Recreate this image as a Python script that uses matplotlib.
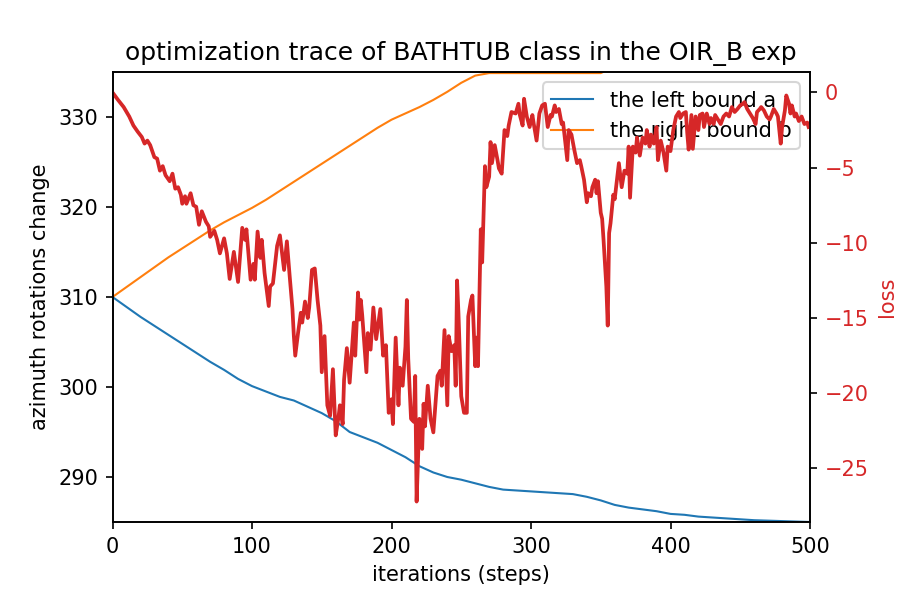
import matplotlib
matplotlib.use("Agg")
import matplotlib.pyplot as plt

# bounds (sampled every 10 steps)
bound_steps = list(range(0, 501, 10))
left_bound = [
    310.0, 308.9, 307.8, 306.8, 305.8, 304.8, 303.8, 302.8, 301.9, 300.9,
    300.1, 299.5, 298.9, 298.5, 297.8, 297.1, 296.2, 295.0, 294.4, 293.8,
    293.0, 292.2, 291.2, 290.5, 290.0, 289.7, 289.3, 288.9, 288.6, 288.5,
    288.4, 288.3, 288.2, 288.1, 287.8, 287.4, 286.9, 286.6, 286.4, 286.2,
    285.9, 285.8, 285.6, 285.5, 285.4, 285.3, 285.2, 285.15, 285.1, 285.05,
    285.0,
]
right_bound = [
    310.0, 311.1, 312.2, 313.3, 314.4, 315.4, 316.4, 317.4, 318.3, 319.1,
    319.9, 320.8, 321.8, 322.8, 323.8, 324.8, 325.8, 326.8, 327.8, 328.8,
    329.7, 330.4, 331.1, 331.9, 332.8, 333.8, 334.6, 334.88, 334.88, 334.88,
    334.88, 334.88, 334.88, 334.88, 334.88, 334.88, 335.6, 336.0, 336.3, 336.6,
    336.9, 337.1, 337.3, 337.5, 337.7, 337.9, 338.0, 338.1, 338.2, 338.3,
    338.4,
]

# loss trace
loss_steps = [
    0, 4, 8, 12, 15, 18, 21, 23, 25, 27, 30, 32, 34, 36, 38, 41, 43, 45, 47, 49,
    50, 52, 53, 56, 58, 60, 62, 64, 67, 69, 70, 73, 75, 77, 80, 82, 84, 87, 90, 93,
    95, 96, 99, 101, 102, 104, 106, 107, 109, 112, 113, 115, 118, 120, 123, 125, 127, 129, 130, 131,
    133, 135, 136, 138, 140, 141, 143, 145, 147, 149, 150, 152, 154, 156, 158, 160, 162, 163, 165, 166,
    168, 170, 172, 173, 174, 176, 177, 178, 179, 182, 183, 185, 187, 189, 192, 194, 196, 198, 200, 201,
    203, 205, 206, 208, 210, 211, 212, 214, 216, 217, 218, 220, 222, 223, 224, 226, 228, 230, 233, 235,
    236, 238, 240, 241, 243, 245, 246, 247, 248, 250, 252, 254, 255, 257, 258, 260, 261, 262, 264, 265,
    267, 268, 270, 271, 272, 274, 276, 277, 279, 281, 283, 284, 286, 289, 291, 292, 294, 295, 297, 299,
    301, 302, 304, 306, 308, 310, 312, 314, 315, 317, 318, 320, 322, 323, 326, 327, 329, 331, 333, 335,
    336, 338, 340, 341, 343, 344, 346, 347, 348, 350, 351, 352, 354, 355, 356, 357, 359, 360, 361, 363,
    365, 367, 369, 370, 371, 373, 375, 376, 378, 380, 382, 383, 385, 386, 388, 390, 391, 393, 395, 397,
    398, 400, 402, 404, 406, 407, 409, 411, 412, 413, 415, 416, 418, 420, 421, 423, 424, 426, 428, 429,
    431, 432, 434, 436, 438, 440, 442, 444, 446, 448, 450, 452, 453, 455, 457, 459, 461, 462, 464, 465,
    467, 469, 471, 472, 474, 476, 477, 479, 480, 482, 483, 485, 486, 487, 489, 490, 492, 494, 496, 498,
    499,
]
loss = [
    0.0, -0.5, -0.97, -1.6, -2.2, -2.6, -2.96, -3.4, -3.2, -3.5, -4.3, -4.4, -5.2, -4.9, -5.5, -5.9, -5.4, -6.4, -6.3, -6.8,
    -7.4, -6.9, -7.4, -6.7, -7.5, -7.6, -8.8, -7.9, -8.6, -8.9, -9.6, -9.2, -9.8, -10.7, -9.7, -10.7, -12.4, -10.6, -12.6, -9.0,
    -9.8, -9.1, -12.45, -11.4, -12.45, -9.25, -11.0, -9.8, -12.0, -14.2, -12.9, -12.7, -10.2, -9.5, -11.8, -9.9, -12.2, -14.4, -16.2, -17.5,
    -16.0, -14.65, -15.3, -13.9, -15.0, -14.3, -11.8, -11.7, -13.8, -15.5, -18.6, -16.2, -20.8, -21.5, -18.4, -22.8, -21.6, -20.8, -22.05, -19.1,
    -17.0, -19.3, -16.6, -15.3, -17.5, -13.3, -15.1, -13.8, -14.8, -18.6, -16.0, -17.1, -14.3, -16.4, -14.4, -17.5, -16.8, -21.3, -20.4, -22.05,
    -16.3, -20.8, -18.3, -19.5, -16.9, -13.8, -17.7, -21.7, -21.9, -18.85, -27.2, -21.7, -23.7, -20.7, -22.2, -19.5, -21.7, -22.6, -18.85, -18.5,
    -19.5, -15.8, -20.8, -16.2, -17.2, -16.8, -19.5, -12.5, -14.7, -20.2, -21.3, -21.3, -14.9, -13.8, -13.5, -18.2, -16.3, -18.2, -9.1, -11.3,
    -4.9, -6.3, -5.6, -3.3, -4.7, -3.5, -4.5, -5.05, -5.4, -2.5, -2.9, -2.2, -1.3, -1.4, -0.75, -1.5, -2.2, -0.42, -1.6, -2.3,
    -1.5, -2.1, -3.2, -1.4, -0.86, -0.75, -2.3, -1.5, -1.6, -0.86, -1.3, -1.1, -2.1, -2.0, -4.5, -2.5, -2.8, -3.8, -4.7, -4.5,
    -4.9, -5.8, -7.3, -6.7, -6.9, -6.3, -5.8, -6.7, -5.9, -8.0, -8.4, -9.8, -12.9, -15.5, -9.35, -8.7, -6.8, -7.1, -6.3, -4.7,
    -6.3, -5.2, -5.4, -3.6, -7.0, -3.6, -4.0, -3.0, -4.2, -3.0, -3.4, -2.5, -3.6, -2.8, -3.4, -2.3, -4.5, -3.2, -4.0, -5.2,
    -3.6, -3.9, -2.5, -1.6, -1.3, -1.7, -1.4, -1.3, -2.7, -3.8, -1.5, -3.75, -1.6, -2.5, -1.5, -1.4, -2.3, -1.4, -2.1, -1.7,
    -2.1, -1.5, -1.8, -2.1, -1.6, -1.4, -1.6, -0.97, -1.3, -1.1, -0.86, -0.75, -0.64, -1.1, -1.4, -1.7, -2.1, -1.3, -1.1, -0.97,
    -1.2, -1.6, -1.8, -1.6, -1.1, -1.4, -1.6, -3.4, -2.3, -1.2, -0.2, -0.75, -1.4, -0.86, -1.6, -1.4, -1.9, -1.6, -2.1, -2.0,
    -2.3,
]

fig, ax1 = plt.subplots(figsize=(6, 4), dpi=150)
fig.subplots_adjust(left=0.125, right=0.9, top=0.88, bottom=0.13)

ax1.plot(bound_steps, left_bound, color="tab:blue", linewidth=1.0, label="the left bound a")
ax1.plot(bound_steps, right_bound, color="tab:orange", linewidth=1.0, label="the right bound b")
ax1.set_xlim(0, 500)
ax1.set_ylim(285, 335)
ax1.set_xlabel("iterations (steps)")
ax1.set_ylabel("azimuth rotations change")
ax1.legend(loc="upper right")
ax1.set_title("optimization trace of BATHTUB class in the OIR_B exp")

ax2 = ax1.twinx()
ax2.plot(loss_steps, loss, color="tab:red", linewidth=1.8)
ax2.set_ylabel("loss", color="tab:red")
ax2.tick_params(axis="y", labelcolor="tab:red")

fig.savefig("out.png", dpi=150)
